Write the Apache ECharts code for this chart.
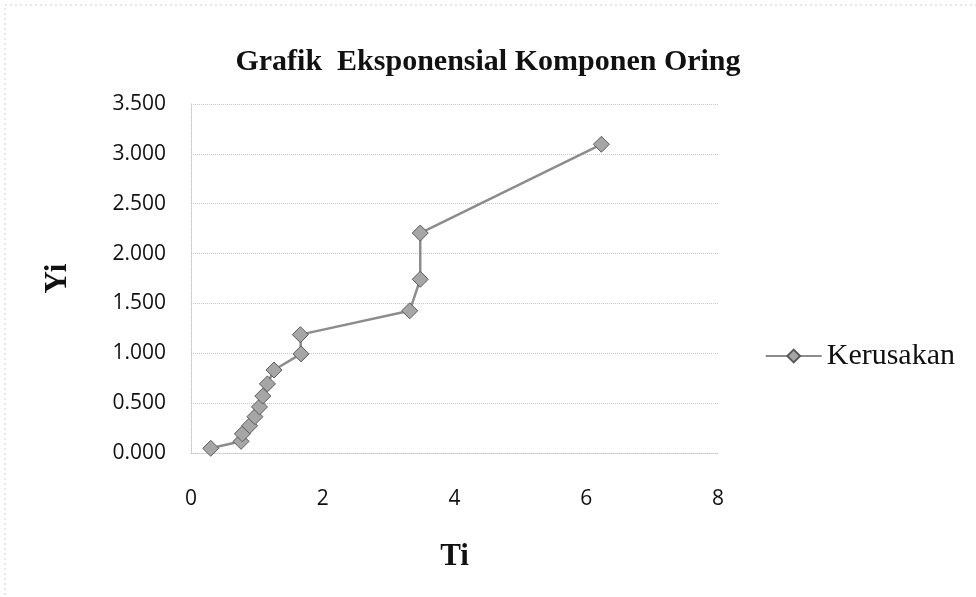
<!DOCTYPE html>
<html>
<head>
<meta charset="utf-8">
<script src="https://cdn.jsdelivr.net/npm/echarts@6/dist/echarts.min.js"></script>
<style>
  html, body { margin: 0; padding: 0; background: #fff; }
  #chart { width: 976px; height: 597px; }
</style>
</head>
<body>
<div id="chart"></div>
<script>
// Ti (x) and Yi (y)
const ti = [0.30, 0.76, 0.78, 0.89, 0.97, 1.04, 1.09, 1.16, 1.26, 1.67, 1.66, 3.32, 3.48, 3.48, 6.23];
const yi = [0.047, 0.117, 0.192, 0.274, 0.364, 0.462, 0.571, 0.693, 0.832, 0.994, 1.187, 1.426, 1.742, 2.206, 3.096];
const xTicks = [0, 2, 4, 6, 8];
const yTicks = [0, 0.5, 1, 1.5, 2, 2.5, 3, 3.5];

var chart = echarts.init(document.getElementById('chart'), null, { renderer: 'canvas' });

var points = ti.map(function (t, i) { return [t, yi[i]]; });

var option = {
    backgroundColor: '#fff',
    animation: false,
    title: {
        text: 'Grafik  Eksponensial Komponen Oring',
        left: 'center',
        top: 42,
        textStyle: {
            fontFamily: 'Liberation Serif',
            fontWeight: 'bold',
            fontSize: 30,
            color: '#111'
        }
    },
    legend: {
        right: 16,
        top: 336,
        itemWidth: 56,
        itemHeight: 16,
        textStyle: {
            fontFamily: 'Liberation Serif',
            fontSize: 30,
            color: '#111'
        },
        data: ['Kerusakan']
    },
    grid: {
        left: 191,
        right: 258,
        top: 104,
        bottom: 144
    },
    xAxis: {
        type: 'value',
        min: xTicks[0],
        max: xTicks[xTicks.length - 1],
        interval: 2,
        name: 'Ti',
        nameLocation: 'middle',
        nameGap: 88,
        nameTextStyle: {
            fontFamily: 'Liberation Serif',
            fontWeight: 'bold',
            fontSize: 31,
            color: '#111'
        },
        axisLine: { lineStyle: { color: '#c8c8c8', type: 'dotted' } },
        axisTick: { show: false },
        splitLine: { show: false },
        axisLabel: {
            margin: 36,
            fontFamily: 'Open Sans',
            fontSize: 21,
            color: '#111'
        }
    },
    yAxis: {
        type: 'value',
        min: yTicks[0],
        max: yTicks[yTicks.length - 1],
        interval: 0.5,
        name: 'Yi',
        nameLocation: 'middle',
        nameGap: 118,
        nameTextStyle: {
            fontFamily: 'Liberation Serif',
            fontWeight: 'bold',
            fontSize: 31,
            color: '#111'
        },
        axisLine: { show: true, lineStyle: { color: '#c8c8c8', type: 'dotted' } },
        axisTick: { show: false },
        splitLine: { lineStyle: { color: '#c8c8c8', type: 'dotted' } },
        axisLabel: {
            margin: 25,
            fontFamily: 'Open Sans',
            fontSize: 21,
            color: '#111',
            formatter: function (v) { return v.toFixed(3); }
        }
    },
    series: [
        {
            name: 'Kerusakan',
            type: 'line',
            data: points,
            symbol: 'diamond',
            symbolSize: 16,
            showAllSymbol: true,
            lineStyle: { color: '#8c8c8c', width: 2.5 },
            itemStyle: { color: '#a6a6a6', borderColor: '#5a5a5a', borderWidth: 1 }
        }
    ],
    graphic: [
        {
            type: 'rect',
            shape: { x: 5, y: 5, width: 1000, height: 700 },
            style: { fill: null, stroke: '#cfcfcf', lineWidth: 1, lineDash: [2, 3] },
            silent: true
        }
    ]
};

chart.setOption(option);
</script>
</body>
</html>
